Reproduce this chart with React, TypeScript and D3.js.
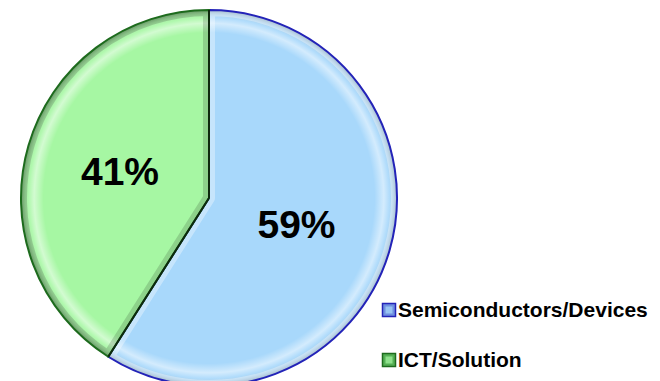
import React from "react";
import * as d3 from "d3";

const categories = ["Semiconductors/Devices", "ICT/Solution"];
const values = [59, 41];
const labels = ["59%", "41%"];
const fills = ["#a8d8fb", "#a6f7a3"];
const borders = ["#2323b8", "#1d6b1d"];
const legendFills = ["#6f8fe0", "#55b055"];

const W = 660;
const H = 381;
const cx = 209;
const cy = 198;
const R = 188;

export default function App() {
  const pie = d3.pie<number>().value((d) => d).sort(null);
  const arcs = pie(values);
  const arc = d3.arc<d3.PieArcDatum<number>>().innerRadius(0).outerRadius(R);
  const labelPos = [
    [87.5, 40],
    [-89, -13],
  ];
  return (
    <svg
      width={W}
      height={H}
      style={{ position: "absolute", left: 0, top: 0, display: "block" }}
      fontFamily="'Liberation Sans', Arial, sans-serif"
    >
      <defs>
        {arcs.map((a, i) => (
          <clipPath id={`clip${i}`} key={i}>
            <path d={arc(a) || ""} />
          </clipPath>
        ))}
        <radialGradient id="rim" cx={0} cy={0} r={R} gradientUnits="userSpaceOnUse">
          <stop offset="0.88" stopColor="#ffffff" stopOpacity="0" />
          <stop offset="0.93" stopColor="#ffffff" stopOpacity="0.5" />
          <stop offset="0.96" stopColor="#ffffff" stopOpacity="0.1" />
          <stop offset="1" stopColor="#000000" stopOpacity="0.3" />
        </radialGradient>
      </defs>
      <g transform={`translate(${cx},${cy})`}>
        {arcs.map((a, i) => (
          <g key={i}>
            <path d={arc(a) || ""} fill={fills[i]} />
            <g clipPath={`url(#clip${i})`}>
              <path d={arc(a) || ""} fill="url(#rim)" />
              <path
                d={arc(a) || ""}
                fill="none"
                stroke={i === 0 ? "#ffffff" : "#000000"}
                strokeOpacity={i === 0 ? 0.35 : 0.15}
                strokeWidth={12}
                strokeLinejoin="round"
              />
            </g>
            <path d={arc(a) || ""} fill="none" stroke={borders[i]} strokeWidth={2} />
          </g>
        ))}
        {arcs.map((a, i) => {
          const ang = a.startAngle;
          return (
            <line
              key={"l" + i}
              x1={0}
              y1={0}
              x2={R * Math.sin(ang)}
              y2={-R * Math.cos(ang)}
              stroke="#0d2a0d"
              strokeWidth={2}
            />
          );
        })}
        {labels.map((t, i) => (
          <text
            key={"t" + i}
            x={labelPos[i][0]}
            y={labelPos[i][1]}
            textAnchor="middle"
            fontSize={39}
            fontWeight="bold"
            fill="#000"
          >
            {t}
          </text>
        ))}
      </g>
      {categories.map((c, i) => (
        <g key={"g" + i} transform={`translate(382,${303 + i * 50})`}>
          <rect x={0.5} y={0.5} width={13} height={13} fill={legendFills[i]} stroke={borders[i]} strokeWidth={1.5} />
          <rect x={3.5} y={3.5} width={7} height={7} fill={fills[i]} opacity={0.7} />
          <text x={16} y={14} fontSize={21} fontWeight="bold" fill="#000">
            {c}
          </text>
        </g>
      ))}
    </svg>
  );
}
